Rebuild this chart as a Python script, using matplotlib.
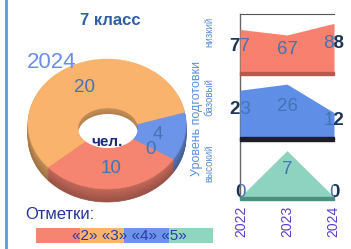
import numpy as np
import matplotlib
matplotlib.use('Agg')
import matplotlib.pyplot as plt
from matplotlib.patches import Polygon, Rectangle

plt.rcParams['font.family'] = ['Liberation Sans', 'DejaVu Sans']

# data
grades = ['«2»', '«3»', '«4»', '«5»']
counts = [10, 20, 4, 0]
years = ['2022', '2023', '2024']
level_low = [77, 67, 88]
level_base = [23, 26, 12]
level_high = [0, 7, 0]
levels = ['низкий', 'базовый', 'высокий']

pie_colors = ['#F58470', '#F9B36C', '#6C94E8', '#8ED6C0']
lbl_blue = '#4374b5'
dark_lbl = '#1c3557'

fig = plt.figure(figsize=(3.51, 2.49), dpi=100)
ax0 = fig.add_axes([0, 0, 1, 1])
ax0.set_xlim(0, 351)
ax0.set_ylim(249, 0)
ax0.axis('off')

# left border
ax0.plot([6, 6], [0, 249], color='#5b9bd5', lw=2)

ax0.text(110, 20, '7 класс', color='#2f5ea8', fontsize=12, fontweight='bold', ha='center', va='center')
ax0.text(52, 62, '2024', color='#6b8ee8', fontsize=16, ha='center', va='center')

# 3d donut
cx, cy, Rx, Ry = 107, 124, 79, 65
hx, hy, rx, ry = 108, 128, 30, 20
depth = 13
start = -32.4


def wedge(a0, a1, dy):
    t = np.radians(np.linspace(a0, a1, 80))
    ox = cx + Rx * np.cos(t)
    oy = cy - Ry * np.sin(t) + dy
    ix = hx + rx * np.cos(t[::-1])
    iy = hy - ry * np.sin(t[::-1]) + dy
    return np.column_stack([np.r_[ox, ix], np.r_[oy, iy]])


# slices go clockwise
total = sum(counts)
angles = []
a = start
for v in counts:
    b = a - 360.0 * v / total
    angles.append((b, a))
    a = b

for d in range(depth, 0, -1):
    k = 0.62 + 0.18 * (1 - d / depth)
    for (a0, a1), c in zip(angles, pie_colors):
        if a1 - a0 <= 0:
            continue
        rgb = np.array(matplotlib.colors.to_rgb(c)) * k
        ax0.add_patch(Polygon(wedge(a0, a1, d), closed=True, fc=rgb, ec=rgb, lw=0.5))

for (a0, a1), c in zip(angles, pie_colors):
    if a1 - a0 <= 0:
        continue
    ax0.add_patch(Polygon(wedge(a0, a1, 0), closed=True, fc=c, ec=c, lw=0.3))

# hole: show a thinner inner wall
th = np.radians(np.linspace(0, 360, 120))
hole = Polygon(np.column_stack([hx + rx * np.cos(th), hy - ry * np.sin(th)]), closed=True,
               fc='none', ec='none')
ax0.add_patch(hole)
inner = Polygon(np.column_stack([hx + rx * np.cos(th), hy + 6 - ry * np.sin(th)]), closed=True,
                fc='white', ec='none')
ax0.add_patch(inner)
inner.set_clip_path(hole)

# labels
for (a0, a1), v in zip(angles, counts):
    m = np.radians((a0 + a1) / 2)
    ax0.text(cx + 52 * np.cos(m), cy + 2 - 43 * np.sin(m), str(v), color=lbl_blue,
             fontsize=13.5, ha='center', va='center')
ax0.text(107, 142, 'чел.', color='#1a2a7a', fontsize=11, fontweight='bold', ha='center', va='center')

# legend
ax0.text(25, 214, 'Отметки:', color='#24339a', fontsize=12, ha='left', va='center')
axl = fig.add_axes([36 / 351, 1 - 243 / 249, 177 / 351, 15 / 249])
axl.barh(0, [1] * len(grades), left=np.arange(len(grades)), color=pie_colors, height=1)
axl.set_xlim(0, len(grades))
axl.set_ylim(-0.5, 0.5)
axl.axis('off')
axl.text(0.525, 0.45, ' '.join(grades), color='#2a3aa8', fontsize=11, ha='center', va='center',
         transform=axl.transAxes)

# vertical captions
ax0.text(197, 118, 'Уровень подготовки', color='#5b8fd8', fontsize=9, rotation=90,
         ha='center', va='center')
word_y = [32, 97, 163]

# level panels
panels = [
    (level_low, 105, 14, 72, '#F7806E', '#b55a4c'),
    (level_base, 30, 76, 137, '#5f8ee6', '#1e1e2a'),
    (level_high, 8, 144, 197, '#8dd3bf', '#4e8e7c'),
]
x = np.arange(len(years))
for (vals, ymax, top, bot, col, floor), name, wy in zip(panels, levels, word_y):
    ax = fig.add_axes([240 / 351, 1 - bot / 249, 94 / 351, (bot - top) / 249])
    ax.fill_between(x, vals, color=col, lw=0)
    ax.set_xlim(0, len(years) - 1)
    ax.set_ylim(0, ymax)
    ax.set_xticks([])
    ax.set_yticks([])
    ax.patch.set_alpha(0)
    for s in ax.spines.values():
        s.set_visible(False)
    ax.add_patch(Rectangle((0, -0.06), 1, 0.06, transform=ax.transAxes, color=floor, clip_on=False))
    for i, v in enumerate(vals):
        t = ax.annotate(str(v), (i, v / 2), xytext=(0, 3), textcoords='offset points',
                        color=lbl_blue, fontsize=13.5, ha='center', va='center', clip_on=True)
        if i in (0, len(vals) - 1):
            side = -1 if i == 0 else 1
            t2 = ax.annotate(str(v), (i, v / 2), xytext=(0, 3), textcoords='offset points',
                             color=dark_lbl, fontsize=13.5, fontweight='bold', ha='center', va='center')
            r = Rectangle((side, -0.5), 1, 2, transform=ax.transAxes, visible=False)
            ax.add_artist(r)
            t2.set_clip_path(r)
    ax0.text(209, wy, name, color='#5b8fd8', fontsize=7, rotation=90,
             ha='center', va='center')
    if top == 14:
        ax.spines['top'].set_visible(True)
        ax.spines['top'].set_color('#555555')

ax0.plot([240, 240], [14, 197], color='#666666', lw=1)
for i, y in enumerate(years):
    ax0.text(241 + 46 * i, 221, y, color='#5a3ec8', fontsize=10, rotation=90, ha='center', va='center')

fig.savefig('out.png', dpi=100)
